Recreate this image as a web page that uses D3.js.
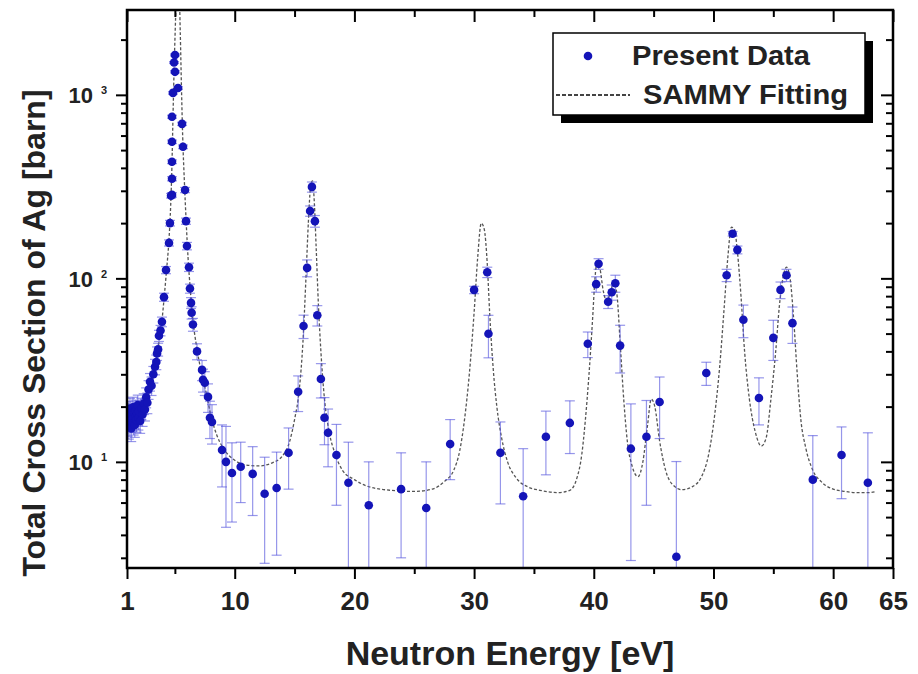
<!DOCTYPE html>
<html><head><meta charset="utf-8">
<script src="https://cdn.jsdelivr.net/npm/d3@7/dist/d3.min.js"></script>
<style>
html,body{margin:0;padding:0;background:#fff;}
svg{display:block;font-family:"Liberation Sans",Arial,sans-serif;}
</style></head>
<body>
<script>
// ---------- DATA ----------
const energy = [1.0,1.05,1.1,1.15,1.2,1.25,1.3,1.35,1.4,1.45,1.5,1.55,1.6,1.65,1.7,1.75,1.8,1.85,1.9,1.95,2.0,2.1,2.2,2.3,2.4,2.5,2.6,2.7,2.8,2.92,3.05,3.2,3.34,3.45,3.51,3.6,3.67,3.8,3.92,4.09,4.26,4.51,4.59,4.68,4.76,4.76,4.76,4.76,4.76,4.84,4.93,5.01,5.01,5.26,5.6,5.68,5.85,5.93,6.01,6.18,6.26,6.35,6.4,6.51,6.85,7.27,7.35,7.5,7.77,7.93,8.1,8.94,9.27,9.77,10.5,11.5,12.5,13.5,14.5,15.3,15.75,16.05,16.3,16.45,16.7,16.9,17.2,17.5,17.8,18.5,19.5,21.2,23.9,26.0,28.0,30.0,31.1,31.2,32.2,34.1,36.0,38.0,39.5,40.2,40.4,41.2,41.5,41.8,42.2,43.1,44.4,45.5,46.9,49.4,51.1,51.6,52.0,52.5,53.8,55.0,55.6,56.1,56.6,58.3,60.7,62.9];
const sigma = [17.5,16.2,18.8,15.6,17.9,19.5,16.8,15.2,18.2,17.1,19.8,16.4,18.6,15.9,17.6,19.1,16.9,18.3,20.4,17.3,18.9,16.7,19.6,18.1,20.8,19.3,22.5,21.0,24.8,27.3,26.0,30.0,33.0,35.0,39.0,41.0,48.7,52.0,58.0,79,111,156,200,282,285,349,432,555,760,1025,1500,1335,1650,1090,695,521,303,205,150,115,88,73.5,65,56,40,31.7,28,27,22.6,17.4,16.5,11.6,10.0,8.7,9.4,8.6,6.7,7.2,11.2,24.1,55,114,233,315,205,63,28.3,17.4,14.4,10.9,7.7,5.8,7.1,5.6,12.5,86.5,108,49.9,11.2,6.5,13.7,16.3,44,93,120,74.5,84,94,43,11.8,13.7,21.2,3.04,30.5,104,175,143,59.5,22.3,47.4,86.5,104,57,8.0,10.9,7.7];
const sigmaErr = [2.5,2.4,2.6,2.3,2.5,2.7,2.4,2.3,2.5,2.4,2.7,2.4,2.6,2.3,2.5,2.6,2.4,2.5,2.7,2.4,2.6,2.4,2.6,2.5,2.7,2.6,2.8,2.7,2.9,3.0,3.0,3.1,3.2,3.2,3.3,3.3,3.4,3.4,3.5,4,5,6,7,8,8,9,10,12,14,16,18,18,20,18,14,12,10,8,7,6,5,5,5,4.5,4,4,4,4,4,4,4,4.3,5.6,4.0,3.4,3.5,3.9,4.1,4.1,5.3,8,12,15,20,15,8,6,5,5,5.1,5.1,4.2,4.1,4.4,4.5,4,7,13,5.3,5.3,5.2,5.2,7,9,8,6,8,10,12.5,8.9,7.9,7.8,7,4.4,8,5,7,12,6.4,11.7,9,8,12.8,5.9,4.6,6.7];

const fitEnergy = [1.0,1.5,2.0,2.5,3.0,3.3,3.6,3.9,4.1,4.3,4.5,4.65,4.75,4.85,4.95,5.05,5.15,5.25,5.35,5.45,5.55,5.65,5.8,5.95,6.1,6.3,6.5,6.8,7.2,7.6,8.0,8.5,9,10,11,12,13,14,14.6,15.0,15.4,15.7,15.95,16.15,16.35,16.5,16.65,16.8,17.0,17.2,17.5,17.9,18.4,19,20,21,23,25,26.5,27.5,28.3,28.8,29.2,29.6,30.0,30.3,30.6,30.85,31.1,31.3,31.6,31.9,32.3,32.8,33.5,34.5,35.5,37,38,38.6,39.0,39.3,39.6,39.9,40.1,40.3,40.5,40.8,41.1,41.4,41.7,41.95,42.2,42.5,42.8,43.2,43.7,44.1,44.5,44.8,45.1,45.5,46,46.6,47.4,48.2,49,49.6,50.1,50.5,50.9,51.2,51.5,51.75,52.0,52.3,52.6,53.0,53.5,54.0,54.4,54.8,55.2,55.5,55.8,56.1,56.4,56.7,57.0,57.3,57.7,58.3,59,60,61,62,63,63.6];
const fitSigma = [17,17.5,18.5,21,26,32,42,57,78,110,160,250,400,800,1500,2500,4000,5000,4000,2200,1100,600,330,200,130,85,60,43,31,24,18,14,12,10.2,9.6,9.5,9.8,10.8,13,17,25,45,100,200,320,340,260,150,70,40,22,14.5,11,9,8,7.4,7.0,6.9,7.1,7.8,9,11.5,17,30,65,130,200,185,120,65,32,20,13.5,10,8.2,7.3,7.0,6.8,7.0,8.2,11,17,30,60,100,125,115,85,75,85,95,80,45,22,13,9.5,8.3,10,16,22,20,13,9,7.5,7.05,7.3,8.3,11,18,32,70,130,190,185,140,80,40,22,14.5,12.2,13.5,22,40,70,100,115,100,60,30,17,12,9,7.8,7.1,6.9,6.8,6.8,6.9];

const xTickValues = [1,10,20,30,40,50,60,65];
const xMinorValues = [5,15,25,35,45,55];
const yTickValues = [10,100,1000];
const yTickExponents = ["1","2","3"];
const legendLabels = ["Present Data","SAMMY Fitting"];
const xTitle = "Neutron Energy [eV]";
const yTitle = "Total Cross Section of Ag [barn]";

// ---------- CHART ----------
const W = 918, H = 674;
const L = 127, R = 893, T = 10, B = 568;
const FONT = "'Liberation Sans',Arial,sans-serif";
const svg = d3.select("body").append("svg").attr("width", W).attr("height", H);

const x = d3.scaleLinear().domain([1, 65]).range([L, R]);
const y = d3.scaleLog().domain([2.64, 2900]).range([B, T]);

const yMinor = [];
[1,10,100,1000].forEach(d => { for (let k = 2; k <= 9; k++) { const v = d*k; if (v >= 2.64 && v <= 2900) yMinor.push(v); } });

svg.append("defs").append("clipPath").attr("id","clip")
  .append("rect").attr("x", L).attr("y", T).attr("width", R-L).attr("height", B-T);

const plot = svg.append("g").attr("clip-path","url(#clip)");

// fit line
const line = d3.line().x((d,i)=>x(fitEnergy[i])).y((d,i)=>y(fitSigma[i])).curve(d3.curveMonotoneX);
plot.append("path").datum(fitSigma).attr("d", line)
  .attr("fill","none").attr("stroke","#555").attr("stroke-width",1.3).attr("stroke-dasharray","3,2");

// error bars
const ebColor = "rgba(80,80,220,0.6)";
const eb = plot.append("g");
energy.forEach((e,i) => {
  const v = sigma[i], er = sigmaErr[i];
  const lo = v - er, hi = v + er;
  const yHi = y(hi);
  const yLo = lo > 0 ? Math.min(y(lo), B+5) : B + 5;
  const cx = x(e);
  eb.append("line").attr("x1",cx).attr("x2",cx).attr("y1",yHi).attr("y2",yLo).attr("stroke",ebColor).attr("stroke-width",1.2);
  eb.append("line").attr("x1",cx-5).attr("x2",cx+5).attr("y1",yHi).attr("y2",yHi).attr("stroke",ebColor).attr("stroke-width",1.2);
  if (lo > 0 && y(lo) < B) eb.append("line").attr("x1",cx-5).attr("x2",cx+5).attr("y1",y(lo)).attr("y2",y(lo)).attr("stroke",ebColor).attr("stroke-width",1.2);
});

// points
plot.append("g").selectAll("circle").data(energy).join("circle")
  .attr("cx", d => x(d)).attr("cy", (d,i) => y(sigma[i])).attr("r", 4.3)
  .attr("fill", "#1414b8");

// axes
function styleAxis(g){
  g.select(".domain").remove();
  g.selectAll(".tick line").attr("stroke","#000").attr("stroke-width",2);
}
const bottomMajor = svg.append("g").attr("transform",`translate(0,${B})`)
  .call(d3.axisBottom(x).tickValues(xTickValues).tickSize(11).tickPadding(13).tickFormat(d3.format("d")));
styleAxis(bottomMajor);
bottomMajor.selectAll("text").attr("font-size",26).attr("font-weight","bold").attr("fill","#222")
  .attr("font-family",FONT);
const bottomMinor = svg.append("g").attr("transform",`translate(0,${B})`)
  .call(d3.axisBottom(x).tickValues(xMinorValues).tickSize(6).tickFormat(""));
styleAxis(bottomMinor);

const topMajor = svg.append("g").attr("transform",`translate(0,${T})`)
  .call(d3.axisTop(x).tickValues(xTickValues).tickSize(-12).tickFormat(""));
styleAxis(topMajor);
const topMinor = svg.append("g").attr("transform",`translate(0,${T})`)
  .call(d3.axisTop(x).tickValues(xMinorValues).tickSize(-7).tickFormat(""));
styleAxis(topMinor);

const leftMajor = svg.append("g").attr("transform",`translate(${L},0)`)
  .call(d3.axisLeft(y).tickValues(yTickValues).tickSize(11).tickFormat(""));
styleAxis(leftMajor);
leftMajor.selectAll(".tick").each(function(d,i){
  d3.select(this).append("text").attr("x",-34).attr("dy","0.36em")
    .attr("text-anchor","end").attr("fill","#222").attr("font-weight","bold")
    .attr("font-family",FONT).attr("font-size",22).text("10");
  d3.select(this).append("text").attr("x",-26).attr("y",-1).attr("text-anchor","start")
    .attr("fill","#222").attr("font-weight","bold").attr("font-family",FONT).attr("font-size",11)
    .text(yTickExponents[i]);
});
const leftMinor = svg.append("g").attr("transform",`translate(${L},0)`)
  .call(d3.axisLeft(y).tickValues(yMinor.filter(v=>![10,100,1000].includes(v))).tickSize(6).tickFormat(""));
styleAxis(leftMinor);

const rightMajor = svg.append("g").attr("transform",`translate(${R},0)`)
  .call(d3.axisRight(y).tickValues(yTickValues).tickSize(-12).tickFormat(""));
styleAxis(rightMajor);
const rightMinor = svg.append("g").attr("transform",`translate(${R},0)`)
  .call(d3.axisRight(y).tickValues(yMinor.filter(v=>![10,100,1000].includes(v))).tickSize(-7).tickFormat(""));
styleAxis(rightMinor);

// frame
svg.append("rect").attr("x",L).attr("y",T).attr("width",R-L).attr("height",B-T)
  .attr("fill","none").attr("stroke","#000").attr("stroke-width",2.5);

// titles
svg.append("text").attr("x",510).attr("y",665).attr("text-anchor","middle")
  .attr("font-size",34).attr("font-weight","bold").attr("fill","#222").text(xTitle);
svg.append("text").attr("transform",`translate(45,333) rotate(-90)`).attr("text-anchor","middle")
  .attr("font-size",32).attr("font-weight","bold").attr("fill","#222").text(yTitle);

// legend
const lg = svg.append("g");
lg.append("rect").attr("x",561).attr("y",41).attr("width",312).attr("height",82).attr("fill","#000");
lg.append("rect").attr("x",553).attr("y",33).attr("width",312).attr("height",82).attr("fill","#fff")
  .attr("stroke","#000").attr("stroke-width",1.5);
lg.append("circle").attr("cx",588).attr("cy",56).attr("r",4.3).attr("fill","#1414b8");
lg.append("text").attr("x",632).attr("y",65).attr("font-size",27).attr("font-weight","bold").attr("fill","#222")
  .attr("textLength",178).attr("lengthAdjust","spacingAndGlyphs").text(legendLabels[0]);
lg.append("line").attr("x1",556).attr("x2",630).attr("y1",95).attr("y2",95)
  .attr("stroke","#444").attr("stroke-width",2).attr("stroke-dasharray","4,2");
lg.append("text").attr("x",643).attr("y",104).attr("font-size",27).attr("font-weight","bold").attr("fill","#222")
  .attr("textLength",205).attr("lengthAdjust","spacingAndGlyphs").text(legendLabels[1]);
</script>
</body></html>
